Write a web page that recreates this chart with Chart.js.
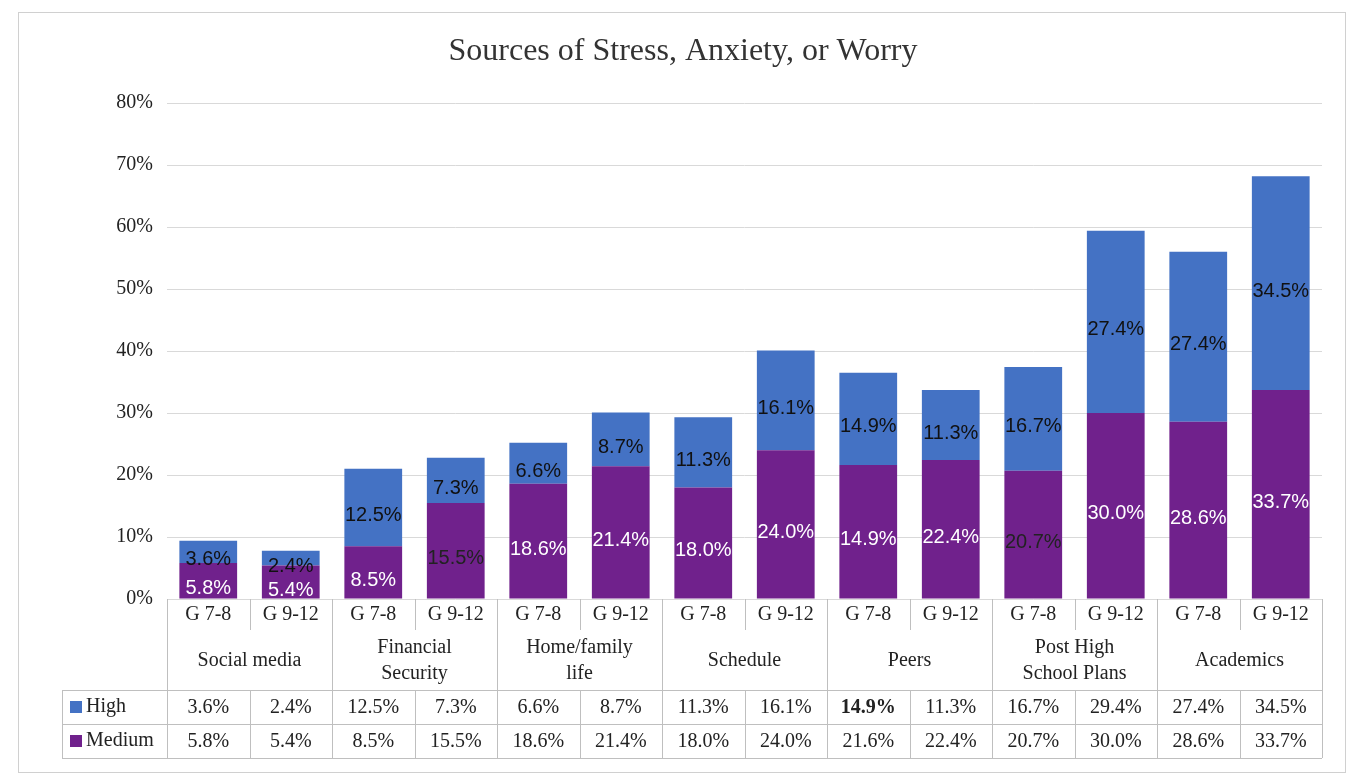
<!DOCTYPE html>
<html><head><meta charset="utf-8">
<script src="https://cdn.jsdelivr.net/npm/chart.js@4/dist/chart.umd.min.js"></script>
<style>body{margin:0;background:#fff}#w{width:1363px;height:784px;position:relative}</style>
</head><body><div id="w"><canvas id="c" width="1363" height="784"></canvas></div>
<script>
const categories = ["G 7-8","G 9-12","G 7-8","G 9-12","G 7-8","G 9-12","G 7-8","G 9-12","G 7-8","G 9-12","G 7-8","G 9-12","G 7-8","G 9-12"];
const groups = [["Social media"],["Financial","Security"],["Home/family","life"],["Schedule"],["Peers"],["Post High","School Plans"],["Academics"]];
const highValues = [3.6,2.4,12.5,7.3,6.6,8.7,11.3,16.1,14.9,11.3,16.7,29.4,27.4,34.5];
const mediumValues = [5.8,5.4,8.5,15.5,18.6,21.4,18.0,24.0,21.6,22.4,20.7,30.0,28.6,33.7];
const highBarLabels = ["3.6%","2.4%","12.5%","7.3%","6.6%","8.7%","11.3%","16.1%","14.9%","11.3%","16.7%","27.4%","27.4%","34.5%"];
const mediumBarLabels = ["5.8%","5.4%","8.5%","15.5%","18.6%","21.4%","18.0%","24.0%","14.9%","22.4%","20.7%","30.0%","28.6%","33.7%"];
const mediumLabelDark = [false,false,false,true,false,false,false,false,false,false,true,false,false,false];
const yTicks = [0,10,20,30,40,50,60,70,80];
const BLUE="#4472C4", PURPLE="#70218C", SERIF="'Liberation Serif','DejaVu Serif',serif", SANS="'Liberation Sans',Arial,sans-serif";

const plugin = {
  id:'custom',
  afterDraw(chart){
    const ctx=chart.ctx, x=chart.scales.x, y=chart.scales.y, ca=chart.chartArea;
    ctx.save();
    ctx.strokeStyle="#d0d0d0"; ctx.lineWidth=1; ctx.strokeRect(18.5,12.5,1327,760);
    ctx.fillStyle="#333"; ctx.font="32px "+SERIF; ctx.textAlign="center"; ctx.textBaseline="middle";
    ctx.fillText("Sources of Stress, Anxiety, or Worry",683,52);
    ctx.font="20px "+SANS;
    const m0=chart.getDatasetMeta(0), m1=chart.getDatasetMeta(1);
    m0.data.forEach((b,i)=>{
      ctx.fillStyle=mediumLabelDark[i]?"#222":"#fff";
      ctx.fillText(mediumBarLabels[i],b.x,(b.y+b.base)/2+8);
    });
    m1.data.forEach((b,i)=>{
      ctx.fillStyle="#111";
      ctx.fillText(highBarLabels[i],b.x,(b.y+b.base)/2+8);
    });
    const n=categories.length, w=(ca.right-ca.left)/n;
    const r0=ca.bottom, r1=630, r2=690, r3=724, r4=758, L=62;
    ctx.strokeStyle="#bfbfbf"; ctx.lineWidth=1;
    const hl=(x1,x2,yy)=>{ctx.beginPath();ctx.moveTo(x1,yy+.5);ctx.lineTo(x2,yy+.5);ctx.stroke();};
    const vl=(xx,y1,y2)=>{ctx.beginPath();ctx.moveTo(Math.round(xx)+.5,y1);ctx.lineTo(Math.round(xx)+.5,y2);ctx.stroke();};
    hl(L,ca.right,r2); hl(L,ca.right,r3); hl(L,ca.right,r4);
    vl(L,r2,r4); vl(ca.right,r0,r4);
    for(let i=0;i<=n;i++){
      const xx=ca.left+i*w;
      if(i%2===0) vl(xx,r0,r4); else {vl(xx,r0,r1); vl(xx,r2,r4);}
    }
    ctx.fillStyle="#222"; ctx.font="20px "+SERIF;
    for(let i=0;i<n;i++){
      const cx=x.getPixelForValue(i);
      ctx.fillText(categories[i],cx,615);
      ctx.font=(i===8?"bold ":"")+"20px "+SERIF;
      ctx.fillText(highValues[i].toFixed(1)+"%",cx,708);
      ctx.font="20px "+SERIF;
      ctx.fillText(mediumValues[i].toFixed(1)+"%",cx,742);
    }
    groups.forEach((g,k)=>{
      const cx=ca.left+(2*k+1)*w;
      if(g.length===1) ctx.fillText(g[0],cx,661);
      else {ctx.fillText(g[0],cx,648);ctx.fillText(g[1],cx,674);}
    });
    ctx.textAlign="left";
    ctx.fillStyle=BLUE; ctx.fillRect(70,701,12,12);
    ctx.fillStyle=PURPLE; ctx.fillRect(70,735,12,12);
    ctx.fillStyle="#222"; ctx.fillText("High",86,707); ctx.fillText("Medium",86,741);
    ctx.restore();
  }
};

new Chart(document.getElementById('c'),{
  type:'bar',
  data:{labels:categories,datasets:[
    {label:'Medium',data:mediumValues,backgroundColor:PURPLE,barPercentage:0.7,categoryPercentage:1},
    {label:'High',data:highValues,backgroundColor:BLUE,barPercentage:0.7,categoryPercentage:1}
  ]},
  options:{responsive:false,animation:false,
    layout:{padding:{left:20,right:41,top:103,bottom:185}},
    plugins:{legend:{display:false},tooltip:{enabled:false},title:{display:false}},
    scales:{
      x:{stacked:true,display:false},
      y:{stacked:true,min:0,max:80,
        afterFit(s){s.width=147;},
        afterBuildTicks(s){s.ticks=yTicks.map(v=>({value:v}));},
        border:{display:false},
        grid:{color:"#d9d9d9",drawTicks:false},
        ticks:{padding:14,color:"#222",font:{family:SERIF,size:20},callback:v=>v+"%"}}
    }
  },
  plugins:[plugin]
});
</script></body></html>
